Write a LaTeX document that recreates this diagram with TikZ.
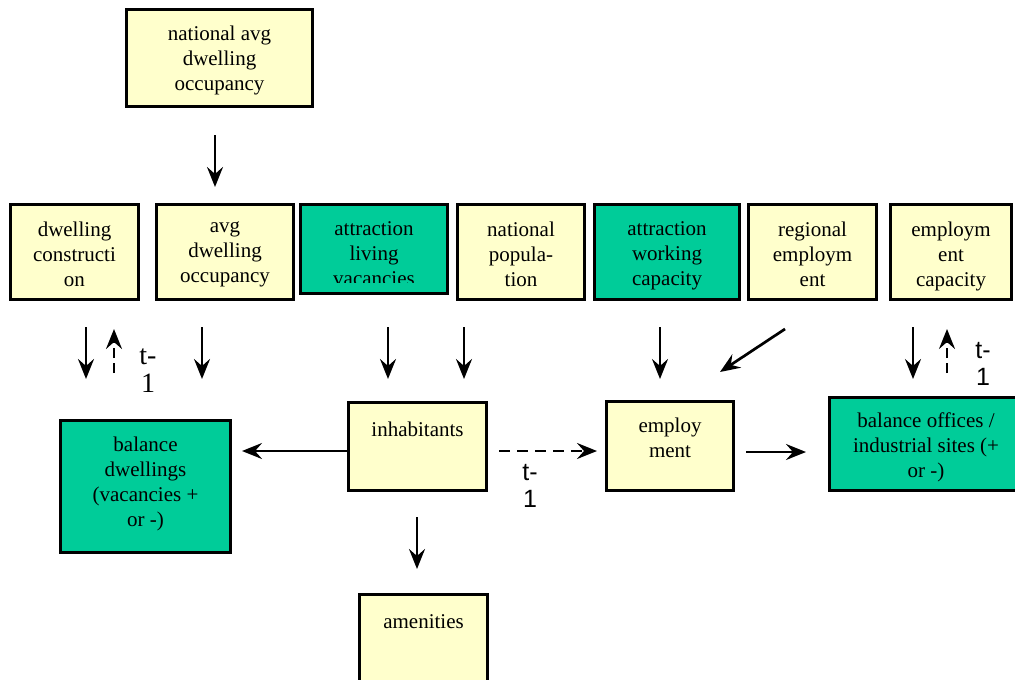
\documentclass[tikz,border=0pt]{standalone}
\usepackage{fontspec}
\setmainfont{Liberation Serif}
\newfontfamily\sansf{Liberation Sans}
\usetikzlibrary{arrows.meta}
\definecolor{ylw}{RGB}{255,255,204}
\definecolor{tealg}{RGB}{0,204,153}
\begin{document}
\begin{tikzpicture}[x=1pt,y=-1pt,
  box/.style={draw=black, line width=3pt, fill=ylw, inner sep=0pt},
  tbox/.style={box, fill=tealg},
  txt/.style={font=\fontsize{21}{25}\selectfont, align=center, anchor=north, inner sep=0pt, execute at begin node=\strut},
  arr/.style={line width=2.7pt, -{Stealth[length=20pt,width=16pt,inset=7pt]}},
  darr/.style={arr, dash pattern=on 10pt off 5pt},
  harr/.style={arr, dash pattern=on 11pt off 7pt},
  tlab/.style={align=center, inner sep=0pt, anchor=north}
]
\useasboundingbox (0,0) rectangle (1015,680);

% boxes
\node[box, minimum width=186pt, minimum height=97pt] (natl) at (219.5,58) {};
\node[txt] (natlt) at ([yshift=-17.5pt]natl.north) {national avg\\dwelling\\occupancy};

\node[box, minimum width=128pt, minimum height=95pt] (dc) at (74.5,252) {};
\node[txt] (dct) at ([yshift=-18.5pt]dc.north) {dwelling\\constructi\\on};

\node[box, minimum width=137pt, minimum height=95pt] (ado) at (225,252) {};
\node[txt] (adot) at ([yshift=-18.5pt]ado.north) {avg\\dwelling\\occupancy};

\node[tbox, minimum width=147pt, minimum height=89pt] (alv) at (374,249) {};
\begin{scope}
\clip (300,204) rectangle (448,282);
\node[txt] (alvt) at ([yshift=-18.5pt]alv.north) {attraction\\living\\vacancies};
\end{scope}

\node[box, minimum width=127pt, minimum height=95pt] (np) at (521,252) {};
\node[txt] (npt) at ([yshift=-18.5pt]np.north) {national\\popula-\\tion};

\node[tbox, minimum width=145pt, minimum height=95pt] (awc) at (667,252) {};
\node[txt] (awct) at ([yshift=-18.5pt]awc.north) {attraction\\working\\capacity};

\node[box, minimum width=128pt, minimum height=95pt] (re) at (812.5,252) {};
\node[txt] (ret) at ([yshift=-18.5pt]re.north) {regional\\employm\\ent};

\node[box, minimum width=121pt, minimum height=95pt] (ec) at (951,252) {};
\node[txt] (ect) at ([yshift=-18.5pt]ec.north) {employm\\ent\\capacity};

\node[tbox, minimum width=170pt, minimum height=132pt] (bd) at (145.5,486.5) {};
\node[txt] (bdt) at ([yshift=-18pt]bd.north) {balance\\dwellings\\(vacancies +\\or -)};

\node[box, minimum width=138pt, minimum height=88pt] (inh) at (417.5,446.5) {};
\node[txt] (inht) at ([yshift=-17.5pt]inh.north) {inhabitants};

\node[box, minimum width=127pt, minimum height=89pt] (emp) at (670,446) {};
\node[txt] (empt) at ([yshift=-18pt]emp.north) {employ\\ment};

\node[tbox, minimum width=193pt, minimum height=93pt] (bo) at (926,444) {};
\node[txt] (bot) at ([yshift=-16.5pt]bo.north) {balance offices /\\industrial sites (+\\or -)};

\node[box, minimum width=128pt, minimum height=125pt] (amen) at (423.5,657) {};
\node[txt] (ament) at ([yshift=-17.5pt]amen.north) {amenities};

% arrows
\draw[arr] (215,135) -- (215,187);
\draw[arr] (86,327) -- (86,379);
\draw[darr] (114,373) -- (114,329);
\draw[arr] (202,327) -- (202,379);
\draw[arr] (388,327) -- (388,379);
\draw[arr] (464,327) -- (464,379);
\draw[arr] (660,327) -- (660,379);
\draw[arr] (785,329) -- (720,372);
\draw[arr] (913,327) -- (913,379);
\draw[darr] (947,373) -- (947,329);
\draw[arr] ([yshift=-4.5pt]inh.west) -- (242,451);
\draw[harr] (499,451) -- (597,451);
\draw[arr] (746,452) -- (806,452);
\draw[arr] (417,517) -- (417,569);

% t-1 labels
\node[tlab, font=\fontsize{28}{28}\selectfont] (t1a) at (148,349) {t-\\1};
\node[tlab, font=\sansf\fontsize{25}{27}\selectfont] (t1b) at (530,464) {t-\\1};
\node[tlab, font=\sansf\fontsize{25}{27}\selectfont] (t1c) at (983,342) {t-\\1};
\end{tikzpicture}
\end{document}
